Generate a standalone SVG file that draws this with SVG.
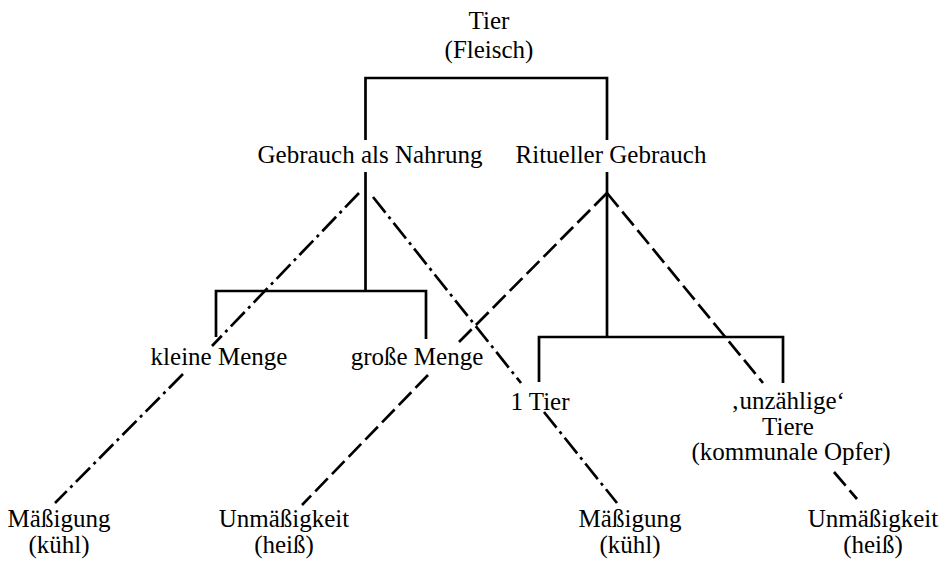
<svg xmlns="http://www.w3.org/2000/svg" width="945" height="564" viewBox="0 0 945 564">
<style>
text{font-family:"Liberation Serif","Times New Roman",serif;font-size:25px;fill:#000;text-anchor:middle}
.solid{fill:none;stroke:#000;stroke-width:2.7;stroke-linejoin:miter}
.dd{fill:none;stroke:#000;stroke-width:2.7;stroke-dasharray:20 5 3 5}
.da{fill:none;stroke:#000;stroke-width:2.7;stroke-dasharray:18 6}
</style>
<rect width="945" height="564" fill="#fff"/>
<g id="connectors">
  <path class="solid" d="M365.5,140 V78 H607 V140"/>
  <path class="solid" d="M365.5,172 V291"/>
  <path class="solid" d="M216,337 V291 H426 V339"/>
  <path class="solid" d="M607,172 V337"/>
  <path class="solid" d="M539,382 V337 H783 V383"/>
  <path class="dd" d="M359,193 L212,346"/>
  <path class="dd" d="M183,374 L55,503"/>
  <path class="dd" d="M373,197 L521,383"/>
  <path class="dd" d="M544,412 L617,503"/>
  <path class="da" d="M607,193 L459,342"/>
  <path class="da" d="M428,375 L302,505"/>
  <path class="da" d="M607,193 L763,383"/>
  <path class="da" d="M834,472 L857,499"/>
</g>
<g id="tier"><text x="489" y="29">Tier</text><text x="489" y="58">(Fleisch)</text></g>
<g id="nahrung"><text x="370" y="163">Gebrauch als Nahrung</text></g>
<g id="rituell"><text x="611" y="163">Ritueller Gebrauch</text></g>
<g id="kleine"><text x="219" y="365">kleine Menge</text></g>
<g id="grosse"><text x="417" y="365">große Menge</text></g>
<g id="eintier"><text x="540" y="410">1 Tier</text></g>
<g id="unzaehlige"><text x="788" y="409">‚unzählige‘</text><text x="788" y="435">Tiere</text><text x="791" y="460">(kommunale Opfer)</text></g>
<g id="massigung1"><text x="59" y="527">Mäßigung</text><text x="59" y="553">(kühl)</text></g>
<g id="unmassigkeit1"><text x="284" y="527">Unmäßigkeit</text><text x="284" y="553">(heiß)</text></g>
<g id="massigung2"><text x="630" y="527">Mäßigung</text><text x="630" y="553">(kühl)</text></g>
<g id="unmassigkeit2"><text x="873" y="527">Unmäßigkeit</text><text x="873" y="553">(heiß)</text></g>
</svg>
